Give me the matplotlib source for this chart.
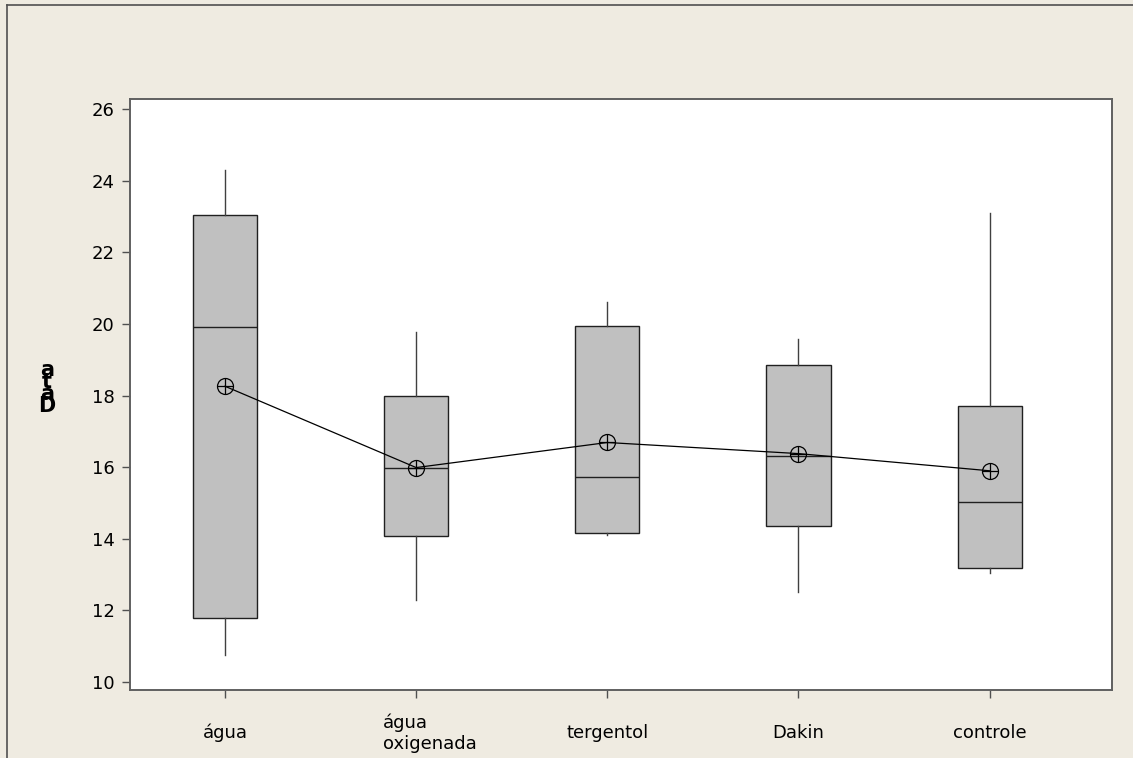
import matplotlib
matplotlib.use("Agg")
import matplotlib.pyplot as plt
import matplotlib.transforms as mtransforms
from matplotlib.lines import Line2D

groups = ['água', 'água\noxigenada', 'tergentol', 'Dakin', 'controle']
whislo = [10.75, 12.30, 14.10, 12.52, 13.05]
q1 = [11.78, 14.07, 14.15, 14.37, 13.19]
med = [19.91, 15.99, 15.73, 16.31, 15.02]
q3 = [23.04, 17.98, 19.95, 18.85, 17.70]
whishi = [24.30, 19.78, 20.62, 19.57, 23.10]
means = [18.26, 15.99, 16.69, 16.38, 15.90]

bg = '#efebe1'
fig = plt.figure(figsize=(11.33, 7.58), dpi=100, facecolor=bg)
ax = fig.add_axes([130/1133, 1 - 690/758, (1112 - 130)/1133, (690 - 99)/758])
ax.set_facecolor('white')

stats = []
for i in range(len(groups)):
    stats.append({'whislo': whislo[i], 'q1': q1[i], 'med': med[i],
                  'q3': q3[i], 'whishi': whishi[i], 'fliers': []})

pos = list(range(1, len(groups) + 1))
ax.bxp(stats, positions=pos, widths=0.335, patch_artist=True, showcaps=False,
       showfliers=False,
       boxprops=dict(facecolor='#c0c0c0', edgecolor='#202020', linewidth=1.0),
       medianprops=dict(color='#202020', linewidth=1.0),
       whiskerprops=dict(color='#404040', linewidth=1.0))

# mean line and symbols (circle with cross)
ax.plot(pos, means, color='black', linewidth=0.9, zorder=4)
ax.plot(pos, means, linestyle='none', marker='o', markersize=11.5,
        markerfacecolor='none', markeredgecolor='black', markeredgewidth=0.9, zorder=5)
ax.plot(pos, means, linestyle='none', marker='+', markersize=11.5,
        markeredgecolor='black', markeredgewidth=0.9, zorder=5)

ax.set_xlim(0.503, 5.64)
ax.set_ylim(9.78, 26.28)
ax.set_yticks(range(10, 27, 2))
ax.set_xticks(pos)
ax.set_xticklabels(groups, multialignment='left')

for s in ax.spines.values():
    s.set_color('#606060')
    s.set_linewidth(1.4)

ax.tick_params(axis='both', direction='out', length=6, width=1.0, color='#505050',
               labelsize=13, labelcolor='black')
ax.tick_params(axis='y', pad=5)
ax.tick_params(axis='x', pad=25)
for lab in ax.get_xticklabels():
    lab.set_verticalalignment('center')
# the two-line label sits a little to the right in the original
two = ax.get_xticklabels()[1]
two.set_transform(two.get_transform() + mtransforms.ScaledTranslation(14/100, 0, fig.dpi_scale_trans))

# broken vertical axis label
fig.text(47/1133, 1 - 388/758, 'a\nt\na\nD', ha='center', va='center',
         fontsize=15, fontweight='bold', linespacing=0.5)

# frame lines of the original graph window
fig.add_artist(Line2D([7/1133, 1], [1 - 5/758, 1 - 5/758], color='#505050', linewidth=1.2))
fig.add_artist(Line2D([7/1133, 7/1133], [0, 1 - 5/758], color='#505050', linewidth=1.2))

fig.savefig('out.png', dpi=100, facecolor=bg)
